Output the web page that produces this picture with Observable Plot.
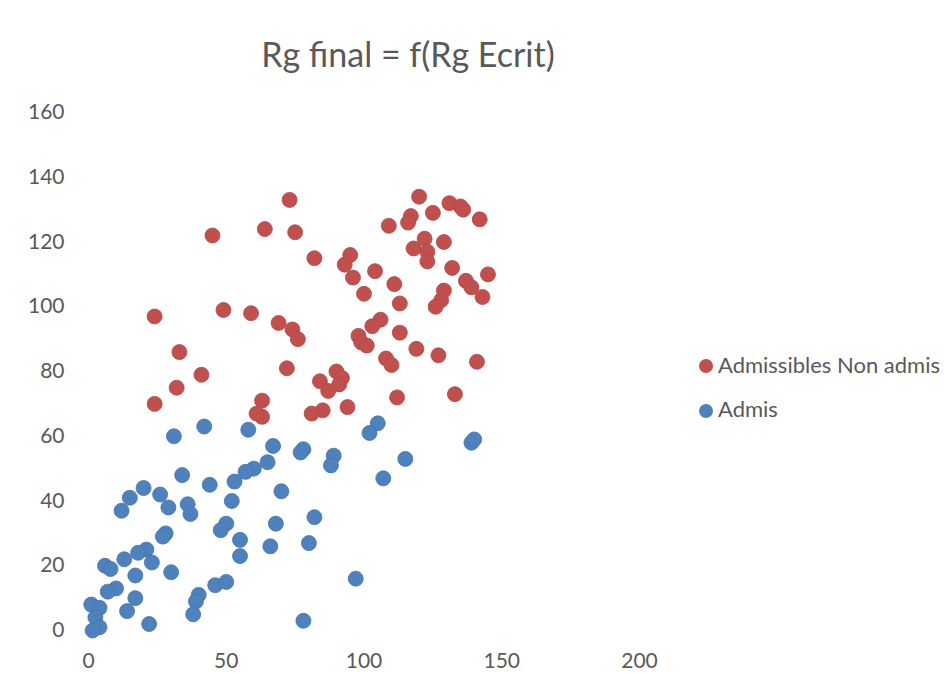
<!DOCTYPE html>
<html>
<head>
<meta charset="utf-8">
<script src="https://cdn.jsdelivr.net/npm/d3@7"></script>
<script src="https://cdn.jsdelivr.net/npm/@observablehq/plot@0.6"></script>
<style>
  html, body { margin: 0; padding: 0; background: #fff; }
  #wrap { position: relative; width: 944px; height: 673px; font-family: Lato, "Open Sans", sans-serif; color: #595959; }
  #title { position: absolute; left: 0; width: 816px; top: 33px; text-align: center; font-size: 34px; line-height: normal; white-space: nowrap; }
  .leg { position: absolute; left: 718px; font-size: 22px; line-height: normal; white-space: nowrap; }
  .dot { position: absolute; left: 699px; width: 14px; height: 14px; border-radius: 50%; }
</style>
</head>
<body>
<div id="wrap">
  <div id="chart"></div>
  <div id="title">Rg final = f(Rg Ecrit)</div>
  <div class="dot" style="top:359px; background:#C0504D"></div>
  <div class="leg" style="top:351px">Admissibles Non admis</div>
  <div class="dot" style="top:404px; background:#4F81BD"></div>
  <div class="leg" style="top:395px">Admis</div>
</div>
<script>
const seriesNames = ["Admissibles Non admis", "Admis"];
const xTicks = [0, 50, 100, 150, 200];
const yTicks = [0, 20, 40, 60, 80, 100, 120, 140, 160];

// Admissibles Non admis: [Rg Ecrit, Rg final]
const nonAdmisX = [24,33,32,41,24,45,64,49,59,73,75,82,95,93,96,104,111,100,113,109,120,117,116,125,131,135,136,142,129,122,118,123,123,132,145,137,139,143,129,128,126,69,74,76,106,103,98,99,101,113,119,127,141,108,110,72,90,92,84,91,87,63,112,133,94,85,81,63,61];
const nonAdmisY = [97,86,75,79,70,122,124,99,98,133,123,115,116,113,109,111,107,104,101,125,134,128,126,129,132,131,130,127,120,121,118,117,114,112,110,108,106,103,105,102,100,95,93,90,96,94,91,89,88,92,87,85,83,84,82,81,80,78,77,76,74,71,72,73,69,68,67,66,67];

// Admis: [Rg Ecrit, Rg final]
const admisX = [31,42,58,67,65,60,57,53,44,34,20,15,12,26,29,36,37,52,70,50,48,55,55,66,68,28,27,21,18,23,13,6,8,17,30,10,7,17,14,1,4,2.5,4,1.5,22,40,39,38,46,50,105,102,139,140,78,77,89,88,115,107,82,80,97,78];
const admisY = [60,63,62,57,52,50,49,46,45,48,44,41,37,42,38,39,36,40,43,33,31,28,23,26,33,30,29,25,24,21,22,20,19,17,18,13,12,10,6,8,7,4,1,0,2,11,9,5,14,15,64,61,58,59,56,55,54,51,53,47,35,27,16,3];

const data = [
  ...nonAdmisX.map((x, i) => ({x, y: nonAdmisY[i], s: seriesNames[0]})),
  ...admisX.map((x, i) => ({x, y: admisY[i], s: seriesNames[1]}))
];

const chart = Plot.plot({
  width: 944,
  height: 673,
  marginLeft: 88,
  marginRight: 305,
  marginTop: 112,
  marginBottom: 43,
  style: {fontFamily: 'Lato, "Open Sans", sans-serif', fontSize: "21px", color: "#595959", background: "#fff"},
  x: {domain: [0, 200], ticks: xTicks, label: null},
  y: {domain: [0, 160], ticks: yTicks, label: null},
  color: {domain: seriesNames, range: ["#C0504D", "#4F81BD"]},
  marks: [
    Plot.axisX({ticks: xTicks, tickSize: 0, tickPadding: 23, fill: "#595959", fontSize: 21, label: null}),
    Plot.axisY({ticks: yTicks, tickSize: 0, tickPadding: 24, fill: "#595959", fontSize: 21, label: null}),
    Plot.dot(data, {x: "x", y: "y", fill: "s", r: 7.5, stroke: d => d.s === seriesNames[0] ? "#b5474a" : "#4674ad", strokeWidth: 0.8})
  ]
});
document.getElementById("chart").appendChild(chart);
</script>
</body>
</html>
